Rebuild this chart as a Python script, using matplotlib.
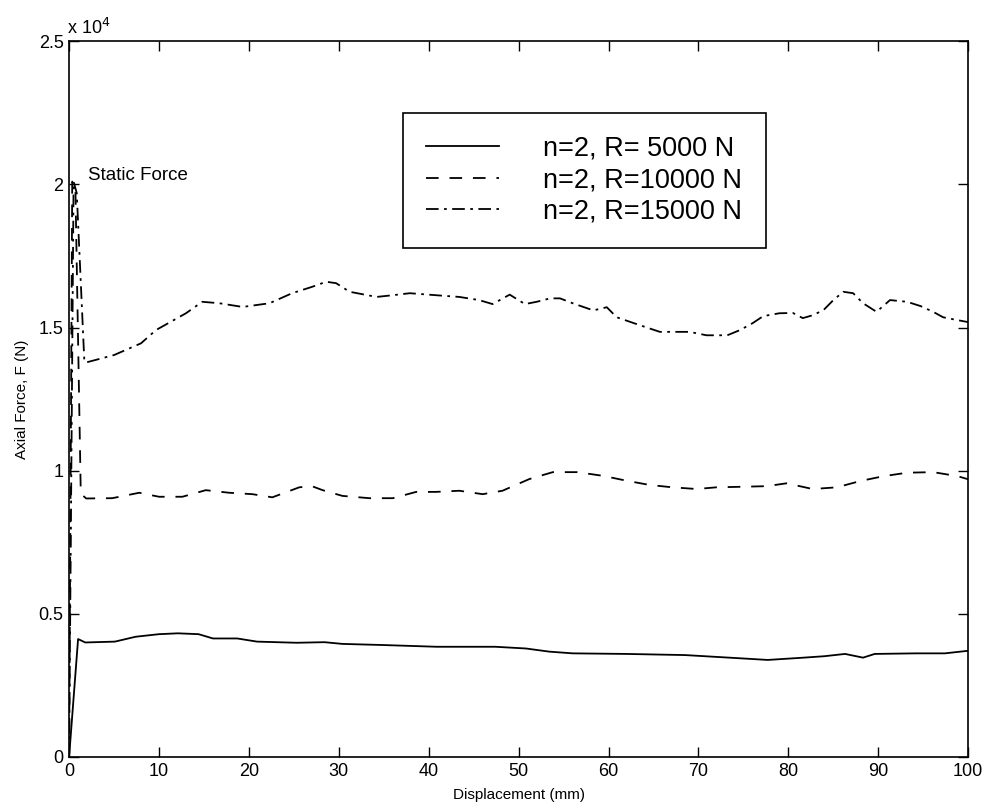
import matplotlib
matplotlib.use("Agg")
import matplotlib.pyplot as plt
from matplotlib.ticker import FuncFormatter

plt.rcParams['font.family'] = ['Liberation Sans', 'DejaVu Sans']

# R = 5000 N (solid)
x_r5 = [0, 1.0, 1.8, 5.1, 7.4, 10, 12.1, 14.4, 16, 18.7, 20.9, 25.3, 28.4, 30.4, 35, 40.9,
        47.4, 50.8, 53.4, 56, 61.9, 68.5, 74.5, 77.7, 81.7, 84, 86.3, 88.3, 89.6, 94.2, 97.4, 100]
f_r5 = [0, 4120, 4000, 4030, 4200, 4290, 4320, 4290, 4140, 4140, 4030, 3990, 4010, 3950, 3910, 3850,
        3850, 3790, 3680, 3620, 3600, 3560, 3450, 3390, 3470, 3520, 3600, 3470, 3600, 3620, 3620, 3710]

# R = 10000 N (dashed)
x_r10 = [0, 0.35, 0.7, 1.3, 1.9, 4.8, 7.8, 10, 12.6, 15.2, 17.8, 20.4, 22.6, 25.6, 27, 28.2,
         30.4, 33.4, 36, 38.6, 40.8, 43.4, 46, 48.2, 51.2, 53.8, 56.5, 59.4, 62, 64.6, 67.1,
         69.8, 72, 75, 77.6, 79.8, 82.7, 85.4, 88, 90.6, 93.2, 96.1, 98.8, 100]
f_r10 = [0, 20100, 19900, 9200, 9030, 9040, 9230, 9090, 9090, 9320, 9230, 9180, 9070, 9420, 9460, 9320,
         9120, 9040, 9040, 9260, 9260, 9300, 9180, 9300, 9710, 9950, 9950, 9820, 9650, 9500, 9420,
         9360, 9420, 9440, 9460, 9560, 9360, 9420, 9640, 9810, 9930, 9950, 9810, 9700]

# R = 15000 N (dash-dot)
x_r15 = [0, 0.5, 0.85, 1.7, 2, 5, 8, 9.65, 13, 14.8, 16.7, 19.3, 22.3, 24.8, 27, 28.6, 29.7,
         31.2, 34.2, 36, 37.9, 40.8, 43.4, 45.6, 47.1, 49.0, 50.7, 52, 53.5, 54.6, 56, 58.3,
         59.8, 60.9, 63.5, 65.7, 67.1, 69, 70.9, 73.2, 74.6, 76, 77.2, 79, 80.5, 81.6, 82.7,
         83.9, 85, 86.1, 87.2, 88.3, 89.8, 91.3, 93.2, 94.7, 96.1, 97.2, 98.8, 100]
f_r15 = [0, 20100, 19700, 13800, 13790, 14040, 14450, 14910, 15500, 15900, 15850, 15720, 15850, 16200, 16420, 16600, 16550,
         16250, 16070, 16130, 16200, 16130, 16070, 15960, 15820, 16150, 15820, 15900, 16020, 16020, 15850, 15600,
         15710, 15360, 15080, 14850, 14850, 14850, 14730, 14730, 14910, 15150, 15400, 15500, 15510, 15330, 15430,
         15610, 15960, 16250, 16200, 15850, 15550, 15960, 15900, 15750, 15550, 15360, 15260, 15190]

labels = ['n=2, R= 5000 N', 'n=2, R=10000 N', 'n=2, R=15000 N']
x_ticks = list(range(0, 101, 10))
y_ticks = [0, 5000, 10000, 15000, 20000, 25000]

fig = plt.figure(figsize=(9.87, 8.11), dpi=100)
ax = fig.add_axes([0.070, 0.0666, 0.911, 0.8825])

lw = 1.3
ax.plot(x_r5, f_r5, color='black', lw=lw, linestyle='-', label=labels[0])
ax.plot(x_r10, f_r10, color='black', lw=lw, linestyle=(0, (7, 6)), label=labels[1])
ax.plot(x_r15, f_r15, color='black', lw=lw, linestyle=(0, (7, 3, 1.5, 3)), label=labels[2])

ax.set_xlim(0, 100)
ax.set_ylim(0, 25000)
ax.set_xticks(x_ticks)
ax.set_yticks(y_ticks)
ax.yaxis.set_major_formatter(FuncFormatter(lambda v, p: '%g' % (v / 1e4)))
ax.tick_params(direction='in', top=True, right=True, length=7, width=1.0,
               labelsize=13, pad=4)
for s in ax.spines.values():
    s.set_linewidth(1.2)

ax.text(-0.002, 1.004, r'x 10$^{4}$', transform=ax.transAxes, ha='left', va='bottom', fontsize=13)
ax.text(2.1, 20320, 'Static Force', ha='left', va='center', fontsize=13.5)

ax.set_xlabel('Displacement (mm)', fontsize=11, labelpad=6)
ax.set_ylabel('Axial Force, F (N)', fontsize=11, labelpad=7)

# legend box spans about x 403..766 px, y 113..247 px in the reference
leg = ax.legend(loc='upper left', bbox_to_anchor=(0.3715, 0.708, 0.4038, 0.192), mode='expand',
                fontsize=19.5, frameon=True, fancybox=False, edgecolor='black', framealpha=1,
                handlelength=2.7, handletextpad=1.6, labelspacing=0.2,
                borderpad=0.85, borderaxespad=0)
leg.get_frame().set_linewidth(1.2)

fig.savefig('out.png', dpi=100)
